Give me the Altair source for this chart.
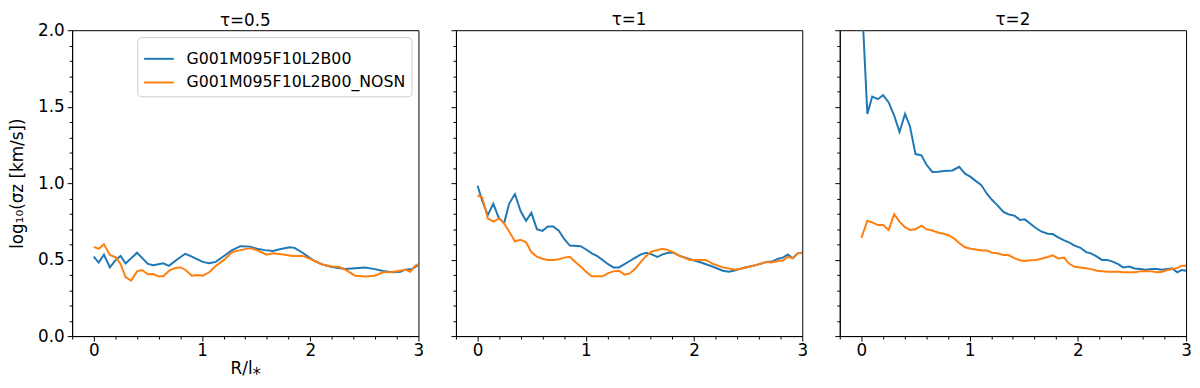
import altair as alt
import pandas as pd

FONT = "DejaVu Sans"
BLUE_NAME = "G001M095F10L2B00"
ORANGE_NAME = "G001M095F10L2B00_NOSN"
COLORS = ["#1f77b4", "#ff7f0e"]

# ---- tau = 0.5 ----
x05_blue = [0, 0.045, 0.094, 0.149, 0.203, 0.248, 0.294, 0.4, 0.5, 0.551, 0.642, 0.694, 0.764, 0.845,
            0.906, 1.006, 1.067, 1.127, 1.203, 1.279, 1.355, 1.445, 1.506, 1.582, 1.657, 1.718, 1.809,
            1.855, 1.93, 2.021, 2.112, 2.203, 2.324, 2.415, 2.506, 2.597, 2.673, 2.757, 2.833, 2.879,
            2.94, 3.0]
y05_blue = [0.519, 0.481, 0.532, 0.449, 0.498, 0.524, 0.474, 0.545, 0.472, 0.464, 0.476, 0.459, 0.498,
            0.538, 0.519, 0.485, 0.476, 0.485, 0.524, 0.562, 0.588, 0.585, 0.571, 0.562, 0.556, 0.568,
            0.581, 0.577, 0.545, 0.498, 0.468, 0.451, 0.438, 0.444, 0.449, 0.438, 0.425, 0.417, 0.421,
            0.434, 0.438, 0.466]
x05_orange = [0, 0.045, 0.094, 0.149, 0.203, 0.248, 0.294, 0.345, 0.4, 0.445, 0.5, 0.551, 0.597, 0.642,
              0.703, 0.764, 0.8, 0.845, 0.906, 0.961, 1.006, 1.067, 1.127, 1.203, 1.279, 1.355, 1.445,
              1.506, 1.597, 1.657, 1.748, 1.839, 1.93, 2.021, 2.112, 2.203, 2.264, 2.324, 2.415, 2.506,
              2.597, 2.673, 2.757, 2.879, 2.924, 2.97, 3.0]
y05_orange = [0.583, 0.571, 0.600, 0.530, 0.515, 0.470, 0.385, 0.363, 0.423, 0.432, 0.404, 0.406, 0.391,
              0.391, 0.432, 0.447, 0.449, 0.434, 0.395, 0.400, 0.395, 0.417, 0.459, 0.498, 0.549, 0.562,
              0.575, 0.562, 0.532, 0.541, 0.534, 0.524, 0.524, 0.498, 0.468, 0.455, 0.453, 0.434, 0.395,
              0.389, 0.395, 0.417, 0.419, 0.434, 0.421, 0.459, 0.470]

# ---- tau = 1 ----
x1_blue = [0, 0.042, 0.094, 0.145, 0.194, 0.245, 0.291, 0.345, 0.397, 0.448, 0.497, 0.548, 0.6, 0.648,
           0.7, 0.752, 0.8, 0.852, 0.952, 1.003, 1.055, 1.103, 1.155, 1.206, 1.255, 1.306, 1.358, 1.406,
           1.458, 1.509, 1.558, 1.609, 1.661, 1.709, 1.761, 1.812, 1.867, 1.964, 2.064, 2.170, 2.267,
           2.321, 2.367, 2.418, 2.473, 2.570, 2.670, 2.721, 2.776, 2.821, 2.867, 2.912, 2.958, 3.0]
y1_blue = [0.983, 0.887, 0.791, 0.865, 0.776, 0.737, 0.865, 0.929, 0.818, 0.754, 0.806, 0.699, 0.688,
           0.716, 0.716, 0.688, 0.635, 0.592, 0.588, 0.566, 0.541, 0.524, 0.498, 0.470, 0.449, 0.449,
           0.470, 0.491, 0.513, 0.534, 0.545, 0.534, 0.517, 0.534, 0.545, 0.545, 0.524, 0.502, 0.481,
           0.455, 0.427, 0.421, 0.427, 0.438, 0.449, 0.464, 0.485, 0.487, 0.506, 0.513, 0.534, 0.509,
           0.541, 0.545]
x1_orange = [0, 0.042, 0.094, 0.145, 0.2, 0.245, 0.297, 0.345, 0.397, 0.448, 0.497, 0.548, 0.6, 0.648,
             0.7, 0.752, 0.8, 0.852, 0.903, 0.952, 1.003, 1.055, 1.103, 1.155, 1.206, 1.255, 1.306,
             1.358, 1.406, 1.458, 1.509, 1.558, 1.609, 1.661, 1.709, 1.761, 1.812, 1.867, 1.964, 2.064,
             2.109, 2.170, 2.267, 2.382, 2.473, 2.570, 2.670, 2.715, 2.776, 2.821, 2.867, 2.912, 2.958,
             3.0]
y1_orange = [0.919, 0.908, 0.769, 0.748, 0.769, 0.737, 0.677, 0.620, 0.630, 0.613, 0.549, 0.519, 0.506,
             0.498, 0.498, 0.502, 0.513, 0.519, 0.485, 0.455, 0.421, 0.391, 0.391, 0.391, 0.412, 0.423,
             0.427, 0.402, 0.410, 0.442, 0.485, 0.524, 0.553, 0.562, 0.571, 0.562, 0.545, 0.524, 0.498,
             0.498, 0.498, 0.474, 0.449, 0.434, 0.447, 0.464, 0.485, 0.481, 0.491, 0.494, 0.519, 0.509,
             0.541, 0.545]

# ---- tau = 2 ----
x2_blue = [0, 0.055, 0.1, 0.152, 0.2, 0.252, 0.303, 0.352, 0.403, 0.448, 0.5, 0.555, 0.6, 0.655, 0.706,
           0.767, 0.842, 0.903, 0.958, 1.009, 1.055, 1.106, 1.161, 1.206, 1.258, 1.312, 1.358, 1.418,
           1.464, 1.509, 1.564, 1.615, 1.661, 1.721, 1.767, 1.818, 1.873, 1.918, 1.97, 2.024, 2.076,
           2.121, 2.176, 2.221, 2.273, 2.327, 2.373, 2.418, 2.473, 2.524, 2.576, 2.630, 2.682, 2.727,
           2.782, 2.827, 2.873, 2.918, 2.958, 3.0]
y2_blue = [2.25, 1.453, 1.566, 1.549, 1.575, 1.528, 1.442, 1.335, 1.453, 1.374, 1.190, 1.182, 1.122,
           1.073, 1.075, 1.079, 1.083, 1.107, 1.062, 1.041, 1.015, 0.989, 0.929, 0.891, 0.855, 0.812,
           0.797, 0.786, 0.759, 0.763, 0.733, 0.705, 0.684, 0.669, 0.667, 0.645, 0.626, 0.613, 0.592,
           0.577, 0.549, 0.541, 0.519, 0.498, 0.498, 0.485, 0.470, 0.449, 0.455, 0.442, 0.438, 0.434,
           0.438, 0.438, 0.434, 0.438, 0.442, 0.417, 0.432, 0.427]
x2_orange = [0, 0.055, 0.1, 0.152, 0.2, 0.252, 0.303, 0.352, 0.403, 0.448, 0.5, 0.555, 0.6, 0.655,
             0.706, 0.767, 0.812, 0.858, 0.903, 0.958, 1.009, 1.055, 1.115, 1.161, 1.206, 1.258, 1.312,
             1.358, 1.418, 1.464, 1.509, 1.564, 1.615, 1.661, 1.721, 1.767, 1.818, 1.873, 1.918, 1.97,
             2.024, 2.076, 2.121, 2.176, 2.273, 2.373, 2.418, 2.524, 2.576, 2.630, 2.682, 2.727, 2.782,
             2.827, 2.873, 2.918, 2.958, 3.0]
y2_orange = [0.641, 0.754, 0.744, 0.726, 0.726, 0.694, 0.797, 0.748, 0.712, 0.694, 0.699, 0.722, 0.699,
             0.690, 0.677, 0.667, 0.656, 0.637, 0.609, 0.581, 0.571, 0.566, 0.560, 0.560, 0.545, 0.541,
             0.530, 0.530, 0.508, 0.496, 0.491, 0.496, 0.498, 0.506, 0.517, 0.528, 0.508, 0.513, 0.474,
             0.453, 0.449, 0.444, 0.438, 0.427, 0.421, 0.421, 0.417, 0.417, 0.423, 0.425, 0.423, 0.417,
             0.421, 0.432, 0.438, 0.444, 0.460, 0.460]

panel_titles = ["τ=0.5", "τ=1", "τ=2"]
x_tick_values = [round(-0.2 + 0.2 * i, 1) for i in range(17)]
y_tick_values = [round(0.1 * i, 1) for i in range(21)]


def make_df(xb, yb, xo, yo):
    a = pd.DataFrame({"R": xb, "sig": yb, "run": BLUE_NAME})
    b = pd.DataFrame({"R": xo, "sig": yo, "run": ORANGE_NAME})
    return pd.concat([a, b], ignore_index=True)


X_MINOR = "abs(datum.value - round(datum.value)) > 0.01"
Y_MINOR = "round(datum.value * 10) % 5 != 0"


def panel(df, title, first):
    x_axis = alt.Axis(
        values=x_tick_values,
        labelExpr="abs(datum.value - round(datum.value)) < 0.01 ? format(datum.value, 'd') : ''",
        tickSize={"condition": {"test": X_MINOR, "value": 3}, "value": 5},
        labelOverlap=False, labelFlush=False, labelPadding=2,
        title="R/l⁎" if first else None,
        titlePadding=2,
    )
    y_axis = alt.Axis(
        values=y_tick_values,
        labelExpr="round(datum.value * 10) % 5 == 0 ? format(datum.value, '.1f') : ''",
        tickSize={"condition": {"test": Y_MINOR, "value": 3}, "value": 5},
        labelOverlap=False, labelFlush=False, labels=first,
        title="log₁₀(σz [km/s])" if first else None,
        titlePadding=11,
    )
    if first:
        legend = alt.Legend(
            title=None, orient="top-right", offset=7, symbolType="stroke", symbolSize=900,
            symbolStrokeWidth=2, labelFontSize=16, labelFont=FONT, labelColor="black",
            labelOffset=12, padding=6, strokeColor="#cccccc", fillColor="white",
            cornerRadius=4, rowPadding=-6, labelLimit=400,
        )
        color = alt.Color("run:N", scale=alt.Scale(domain=[BLUE_NAME, ORANGE_NAME], range=COLORS),
                          legend=legend)
    else:
        color = alt.Color("run:N", scale=alt.Scale(domain=[BLUE_NAME, ORANGE_NAME], range=COLORS),
                          legend=None)
    return alt.Chart(df).mark_line(strokeWidth=2, clip=True).encode(
        x=alt.X("R:Q", scale=alt.Scale(domain=[-0.2, 3.0], nice=False, zero=False), axis=x_axis),
        y=alt.Y("sig:Q", scale=alt.Scale(domain=[0, 2], nice=False, zero=False), axis=y_axis),
        color=color,
        order=alt.Order("R:Q"),
    ).properties(
        width=351, height=310,
        title=alt.TitleParams(title, fontSize=17, font=FONT, fontWeight="normal", color="black",
                              offset=-9 if first else 1, anchor="middle", frame="group"),
    )


p1 = panel(make_df(x05_blue, y05_blue, x05_orange, y05_orange), panel_titles[0], True)
p2 = panel(make_df(x1_blue, y1_blue, x1_orange, y1_orange), panel_titles[1], False)
p3 = panel(make_df(x2_blue, y2_blue, x2_orange, y2_orange), panel_titles[2], False)

chart = alt.hconcat(p1, p2, p3, spacing=26).resolve_legend(color="independent").properties(
    padding={"left": 0, "top": 0, "right": 0, "bottom": 0}
).configure_view(stroke="black", strokeWidth=1).configure_axis(
    grid=False, domainColor="black", tickColor="black", labelColor="black",
    labelFont=FONT, labelFontSize=17, titleFont=FONT, titleFontSize=17,
    titleFontWeight="normal", titleColor="black", labelPadding=3,
)

chart.save("out.html", embed_options={"renderer": "svg", "actions": False})
